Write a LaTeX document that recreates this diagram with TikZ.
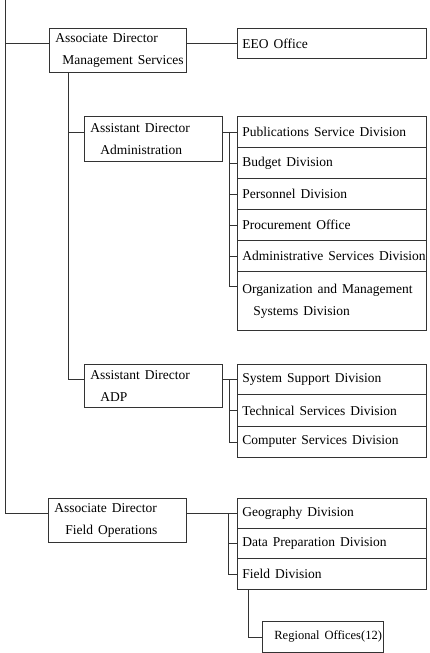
\documentclass[tikz,border=0pt]{standalone}
\usepackage{fontspec}
\setmainfont{Liberation Serif}
\newcommand\orgboxfont{\fontsize{13.5}{22}\selectfont\spaceskip=5pt plus 1pt minus 1pt\relax}
\newcommand\orgsmallfont{\fontsize{12.5}{20}\selectfont\spaceskip=5pt plus 1pt minus 1pt\relax}
% one-line box content: width, left pad, text
\newcommand\bxone[3]{\hbox to #1{\hskip#2\relax #3\hss}}
% two-line box content: width, left pad, line 1, indent, line 2
\newcommand\bxtwo[5]{\hbox to #1{\hskip#2\relax\vbox{\hbox{#3}\hbox{\hskip#4\relax #5}}\hss}}
\begin{document}
\begin{tikzpicture}[x=1pt,y=-1pt,
  ln/.style={draw=black!80, line width=0.8pt},
  box/.style={ln, rectangle, anchor=north west, inner sep=0pt, font=\orgboxfont}]
\useasboundingbox[fill=white] (0,0) rectangle (430,653);
% boxes
\node[box, minimum height=44pt] (ms) at (49,28)
  {\bxtwo{137pt}{6pt}{Associate Director}{7pt}{Management Services}};
\node[box, minimum height=30pt] (eeo) at (237,28) {\bxone{189pt}{5pt}{EEO Office}};
\node[box, minimum height=45pt] (admin) at (84,116)
  {\bxtwo{138pt}{6pt}{Assistant Director}{10pt}{Administration}};
\node[box, minimum height=31pt] (pub) at (237,116) {\bxone{189pt}{5pt}{Publications Service Division}};
\node[box, minimum height=31pt] (bud) at (237,147) {\bxone{189pt}{5pt}{Budget Division}};
\node[box, minimum height=31pt] (per) at (237,178) {\bxone{189pt}{5pt}{Personnel Division}};
\node[box, minimum height=31pt] (pro) at (237,209) {\bxone{189pt}{5pt}{Procurement Office}};
\node[box, minimum height=31pt] (adm) at (237,240) {\bxone{189pt}{5pt}{Administrative Services Division}};
\node[box, minimum height=59pt] (org) at (237,271)
  {\bxtwo{189pt}{5pt}{Organization and Management}{11pt}{Systems Division}};
\node[box, minimum height=43pt] (adp) at (84,364)
  {\bxtwo{138pt}{6pt}{Assistant Director}{10pt}{ADP}};
\node[box, minimum height=30pt] (sys) at (237,364) {\bxone{189pt}{5pt}{System Support Division}};
\node[box, minimum height=32pt] (tec) at (237,394) {\bxone{189pt}{5pt}{Technical Services Division}};
\node[box, minimum height=31pt] (com) at (237,426) {\bxone{189pt}{5pt}{Computer Services Division}};
\node[box, minimum height=44pt] (fo) at (48,498)
  {\bxtwo{138pt}{6pt}{Associate Director}{11pt}{Field Operations}};
\node[box, minimum height=30pt] (geo) at (237,498) {\bxone{189pt}{5pt}{Geography Division}};
\node[box, minimum height=30pt] (dat) at (237,528) {\bxone{189pt}{5pt}{Data Preparation Division}};
\node[box, minimum height=31pt] (fld) at (237,558) {\bxone{189pt}{5pt}{Field Division}};
\node[box, font=\orgsmallfont, minimum height=31pt] (reg) at (262,621) {\bxone{121pt}{12pt}{Regional Offices(12)}};
% connector coordinates
\coordinate (top) at (5,0);
\coordinate (msx) at (68,0);
\coordinate (abus) at (229,0);
\coordinate (fbus) at (228,0);
\coordinate (fx) at (248,0);
\coordinate (orgtick) at ([yshift=-15pt]org.north west);
% main trunk
\draw[ln] (top) -- (top |- geo.west) -- (fo.west |- geo.west);
\draw[ln] (top |- eeo.west) -- (ms.west |- eeo.west);
\draw[ln] (ms.east |- eeo.west) -- (eeo.west);
% management services trunk
\draw[ln] (msx |- ms.south) -- (msx |- sys.west) -- (adp.west |- sys.west);
\draw[ln] (msx |- pub.west) -- (admin.west |- pub.west);
% administration bracket
\draw[ln] (admin.east |- pub.west) -- (pub.west);
\draw[ln] (abus |- pub.west) -- (abus |- orgtick) -- (orgtick);
\foreach \n in {bud,per,pro,adm} \draw[ln] (abus |- \n.west) -- (\n.west);
% ADP bracket
\draw[ln] (adp.east |- sys.west) -- (sys.west);
\draw[ln] (abus |- sys.west) -- (abus |- com.west) -- (com.west);
\draw[ln] (abus |- tec.west) -- (tec.west);
% field operations bracket
\draw[ln] (fo.east |- geo.west) -- (geo.west);
\draw[ln] (fbus |- geo.west) -- (fbus |- fld.west) -- (fld.west);
\draw[ln] (fbus |- dat.west) -- (dat.west);
\draw[ln] (fx |- fld.south) -- (fx |- reg.west) -- (reg.west);
\end{tikzpicture}
\end{document}
